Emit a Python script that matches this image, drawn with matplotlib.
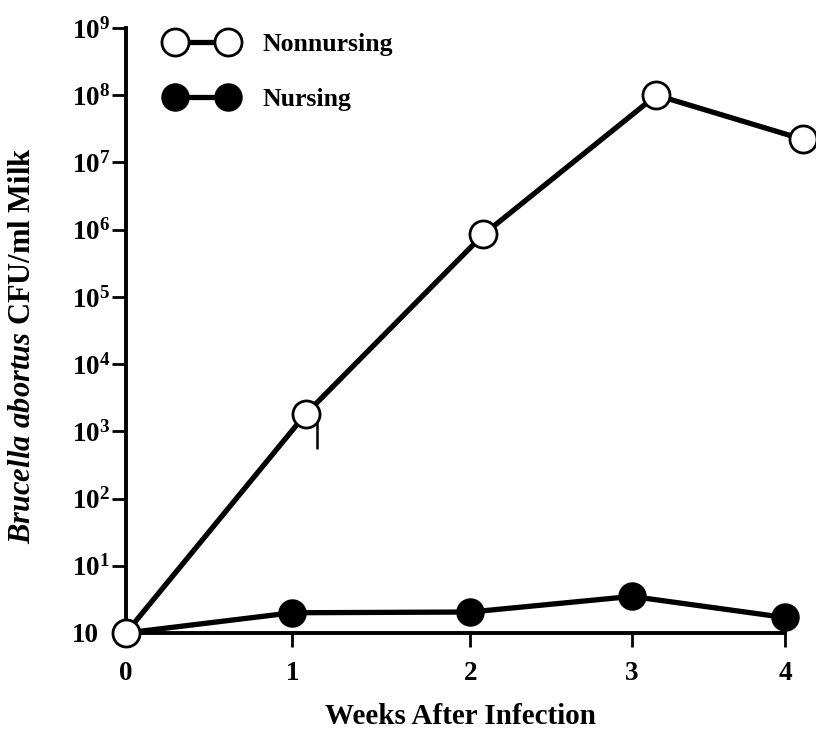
import matplotlib
matplotlib.use('Agg')
import matplotlib.pyplot as plt

plt.rcParams['font.family'] = 'Liberation Serif'
plt.rcParams['font.weight'] = 'bold'
plt.rcParams['mathtext.fontset'] = 'custom'
plt.rcParams['mathtext.rm'] = 'Liberation Serif:bold'
plt.rcParams['mathtext.bf'] = 'Liberation Serif:bold'
plt.rcParams['mathtext.bfit'] = 'Liberation Serif:italic:bold'
plt.rcParams['mathtext.it'] = 'Liberation Serif:italic:bold'

# data
week_ticks = [0, 1.01, 2.09, 3.07, 4.0]
week_labels = ['0', '1', '2', '3', '4']

nursing_x = [0, 1.01, 2.09, 3.07, 4.0]
nursing_y = [1, 2.0, 2.05, 3.5, 1.7]

nonnursing_x = [0, 1.09, 2.17, 3.22, 4.11]
nonnursing_y = [1, 1.8e3, 8.5e5, 1.0e8, 2.2e7]

# error bar on week 1 (non-nursing)
err_x = [1.16]
err_low = [5.4e2]
err_high = [1.8e3]

y_ticks = [10 ** i for i in range(10)]
y_labels = ['10'] + [r'$\mathbf{10^{%d}}$' % i for i in range(1, 10)]

fig = plt.figure(figsize=(8.16, 7.30), dpi=100)
ax = fig.add_axes([0.1544, 0.1329, 0.8076, 0.8288])

ax.plot(nursing_x, nursing_y, color='black', lw=3.8, marker='o', ms=19.5,
        mfc='black', mec='black', clip_on=False, zorder=3, label='Nursing')
ax.plot(nonnursing_x, nonnursing_y, color='black', lw=3.8, marker='o', ms=19.5,
        mfc='white', mec='black', mew=2, clip_on=False, zorder=4,
        label='Nonnursing')
ax.vlines(err_x, err_low, err_high, color='black', lw=1.8, zorder=2)

ax.set_yscale('log')
ax.set_ylim(1, 1e9)
ax.set_xlim(0, 4)
ax.set_yticks(y_ticks)
ax.set_yticklabels(y_labels, ha='left')
ax.minorticks_off()
ax.set_xticks(week_ticks)
ax.set_xticklabels(week_labels)

for s in ['top', 'right']:
    ax.spines[s].set_visible(False)
for s in ['left', 'bottom']:
    ax.spines[s].set_linewidth(2.8)
ax.tick_params(axis='both', direction='out', length=10, width=2,
               labelsize=19.5)
ax.tick_params(axis='y', pad=29)
ax.tick_params(axis='x', pad=10)

ax.set_xlabel('Weeks After Infection', fontsize=21, fontweight='bold')
ax.xaxis.set_label_coords(0.507, -0.115)
ax.set_ylabel(r'$\mathbfit{Brucella\ abortus}$ CFU/ml Milk', fontsize=22,
              fontweight='bold')
ax.yaxis.set_label_coords(-0.135, 0.474)

handles, labels = ax.get_legend_handles_labels()
leg = ax.legend(handles[::-1], labels[::-1], loc='upper left',
                bbox_to_anchor=(0.205, 0.955), bbox_transform=fig.transFigure,
                frameon=False, numpoints=2, handlelength=2.66,
                handletextpad=1.06, labelspacing=1.26, borderpad=0,
                borderaxespad=0, fontsize=18.5)

fig.savefig('out.png', dpi=100)
